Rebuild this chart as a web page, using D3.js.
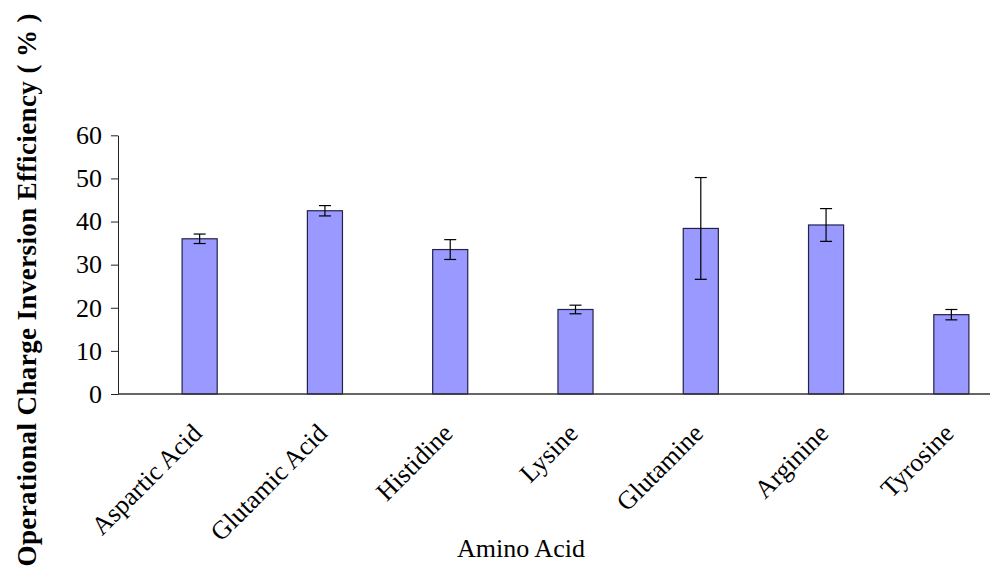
<!DOCTYPE html>
<html>
<head>
<meta charset="utf-8">
<script src="https://cdn.jsdelivr.net/npm/d3@7"></script>
<style>
  body { margin: 0; background: #fff; }
  svg { display: block; }
  text { font-family: "Liberation Serif", "Times New Roman", serif; fill: #000; }
</style>
</head>
<body>
<svg id="chart" width="990" height="570"></svg>
<script>
const categories = ["Aspartic Acid", "Glutamic Acid", "Histidine", "Lysine", "Glutamine", "Arginine", "Tyrosine"];
const values = [36.0, 42.5, 33.5, 19.6, 38.4, 39.2, 18.4];
const errors = [1.1, 1.2, 2.3, 1.0, 11.8, 3.8, 1.2];
const yTicks = [0, 10, 20, 30, 40, 50, 60];
const xTitle = "Amino Acid";
const yTitle = "Operational Charge Inversion  Efficiency ( % )";

const svg = d3.select("#chart");
const axisX0 = 118, axisX1 = 990;
const y = d3.scaleLinear().domain([0, 60]).range([394, 135.3]);
const x = d3.scaleBand().domain(categories).range([137, 1014]).paddingInner(0.72).paddingOuter(0.36);

// y axis
const yAxis = d3.axisLeft(y).tickValues(yTicks).tickSize(7).tickPadding(9).tickSizeOuter(0);
const gy = svg.append("g").attr("transform", `translate(${axisX0},0)`).call(yAxis);
gy.select(".domain").attr("stroke", "#222").attr("stroke-width", 1);
gy.selectAll(".tick line").attr("stroke", "#222");
gy.selectAll(".tick text").style("font-family", '"Liberation Serif", serif').style("font-size", "26px").attr("fill", "#000");

// bars
const g = svg.append("g");
g.selectAll("rect.bar").data(categories).enter().append("rect")
  .attr("class", "bar")
  .attr("x", d => x(d))
  .attr("width", x.bandwidth())
  .attr("y", (d, i) => y(values[i]))
  .attr("height", (d, i) => y(0) - y(values[i]))
  .attr("fill", "#9999ff")
  .attr("stroke", "#23234a")
  .attr("stroke-width", 1.2);

// x axis line
svg.append("line").attr("x1", axisX0).attr("x2", axisX1).attr("y1", y(0)).attr("y2", y(0))
  .attr("stroke", "#333").attr("stroke-width", 1.5);

// error bars
const eb = svg.append("g").attr("stroke", "#000").attr("stroke-width", 1.2);
categories.forEach((c, i) => {
  const cx = x(c) + x.bandwidth() / 2;
  const hi = y(values[i] + errors[i]), lo = y(values[i] - errors[i]);
  eb.append("line").attr("x1", cx).attr("x2", cx).attr("y1", hi).attr("y2", lo);
  eb.append("line").attr("x1", cx - 6).attr("x2", cx + 6).attr("y1", hi).attr("y2", hi);
  eb.append("line").attr("x1", cx - 6).attr("x2", cx + 6).attr("y1", lo).attr("y2", lo);
});

// category labels
svg.append("g").selectAll("text").data(categories).enter().append("text")
  .attr("transform", d => `translate(${x(d) + x.bandwidth() / 2 - 9},${422}) rotate(-45)`)
  .attr("text-anchor", "end")
  .attr("dy", "0.7em")
  .style("font-size", "26px")
  .text(d => d);

// axis titles
svg.append("text").attr("x", 521).attr("y", 557).attr("text-anchor", "middle")
  .style("font-size", "26px").text(xTitle);

svg.append("text")
  .attr("transform", "translate(36,290) rotate(-90)")
  .attr("text-anchor", "middle")
  .attr("textLength", 553)
  .attr("lengthAdjust", "spacing")
  .style("font-size", "27px").style("font-weight", "bold")
  .text(yTitle);
</script>
</body>
</html>
